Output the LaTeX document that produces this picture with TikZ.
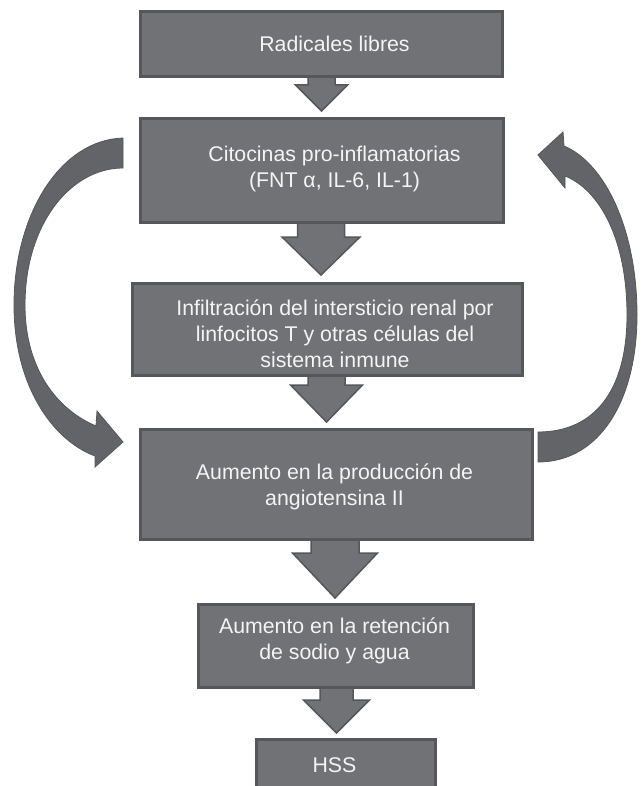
\documentclass[tikz,border=0pt]{standalone}
\usepackage{fontspec}
\setmainfont{Liberation Sans}
\usetikzlibrary{calc}
\definecolor{boxfill}{HTML}{717276}
\definecolor{boxline}{HTML}{56575A}
\definecolor{arrowfill}{HTML}{636468}
\definecolor{txt}{HTML}{F4F4F4}
\tikzset{
  box/.style={rectangle, draw=boxline, line width=3pt, fill=boxfill, inner sep=0pt},
  lbl/.style={text=txt, font=\fontsize{21.3pt}{26pt}\selectfont, align=center, inner sep=0pt, anchor=base},
  blk/.style={draw=boxline, line width=1.5pt, fill=boxfill, line join=miter},
  curv/.style={draw=boxline, line width=0.8pt, fill=arrowfill, line join=miter}
}
% #1 src, #2 dst, #3 cx, #4 half shaft, #5 half head, #6 head length, #7 gap
\newcommand\blockarr[7]{%
  \draw[blk] let \p1=(#1.south), \p2=(#2.north) in
   (#3-#4,\y1+6pt) -- (#3-#4,\y2+#7pt+#6pt) -- (#3-#5,\y2+#7pt+#6pt) -- (#3,\y2+#7pt)
   -- (#3+#5,\y2+#7pt+#6pt) -- (#3+#4,\y2+#7pt+#6pt) -- (#3+#4,\y1+6pt) -- cycle;}
\begin{document}
\begin{tikzpicture}[x=1pt,y=-1pt]
\clip (0,0) rectangle (640,786);
\fill[white] (0,0) rectangle (640,786);

% box shapes (positions only, drawn later on top of arrows)
\path
  (321,44.5)   node[box, minimum width=359pt, minimum height=62pt, draw=none, fill=none] (b1) {}
  (321.5,171)  node[box, minimum width=360pt, minimum height=101pt, draw=none, fill=none] (b2) {}
  (327,329)    node[box, minimum width=387pt, minimum height=89pt, draw=none, fill=none] (b3) {}
  (336,484)    node[box, minimum width=389pt, minimum height=107pt, draw=none, fill=none] (b4) {}
  (335.5,645.5) node[box, minimum width=272pt, minimum height=80pt, draw=none, fill=none] (b5) {}
  (345.5,770)  node[box, minimum width=176pt, minimum height=59pt, draw=none, fill=none] (b6) {};

% block arrows
\blockarr{b1}{b2}{321.5}{13.5}{26}{26}{8}
\blockarr{b2}{b3}{321}{23.5}{39}{38}{8}
\blockarr{b3}{b4}{326.5}{18.5}{36}{37}{7}
\blockarr{b4}{b5}{335}{24}{42.5}{45}{6}
\blockarr{b5}{b6}{336.5}{16.5}{33}{33}{6}

% boxes
\foreach \n in {b1,b2,b3,b4,b5,b6}{
  \draw[draw=boxline, line width=3pt, fill=boxfill] (\n.south west) rectangle (\n.north east);
}

% curved feedback arrows
\draw[curv] (123,138) .. controls (60,140) and (14,215) .. (14,305)
  .. controls (14,385) and (52,440) .. (95,456) -- (95,467) -- (123,442) -- (97,411) -- (96,426)
  .. controls (58,410) and (25,370) .. (25,305)
  .. controls (25,225) and (70,168) .. (123,168) -- cycle;
\draw[curv] (538,462) .. controls (600,462) and (637,400) .. (637,315)
  .. controls (637,230) and (605,163) .. (564,146) -- (563,132) -- (538,155) -- (565,188) -- (565,176)
  .. controls (600,190) and (627,240) .. (627,315)
  .. controls (627,390) and (595,432) .. (538,432) -- cycle;

% texts
\node[lbl] (t1) at (334.5,52) {Radicales libres};
\node[lbl] (t2) at (334.5,188) {Citocinas pro-inflamatorias\\(FNT α, IL-6, IL-1)};
\node[lbl] (t3) at (335,367) {Infiltración del intersticio renal por\\linfocitos T y otras células del\\sistema inmune};
\node[lbl] (t4) at (334.5,505) {Aumento en la producción de\\angiotensina II};
\node[lbl] (t5) at (334.5,659) {Aumento en la retención\\de sodio y agua};
\node[lbl] (t6) at (334.5,772) {HSS};
\end{tikzpicture}
\end{document}
